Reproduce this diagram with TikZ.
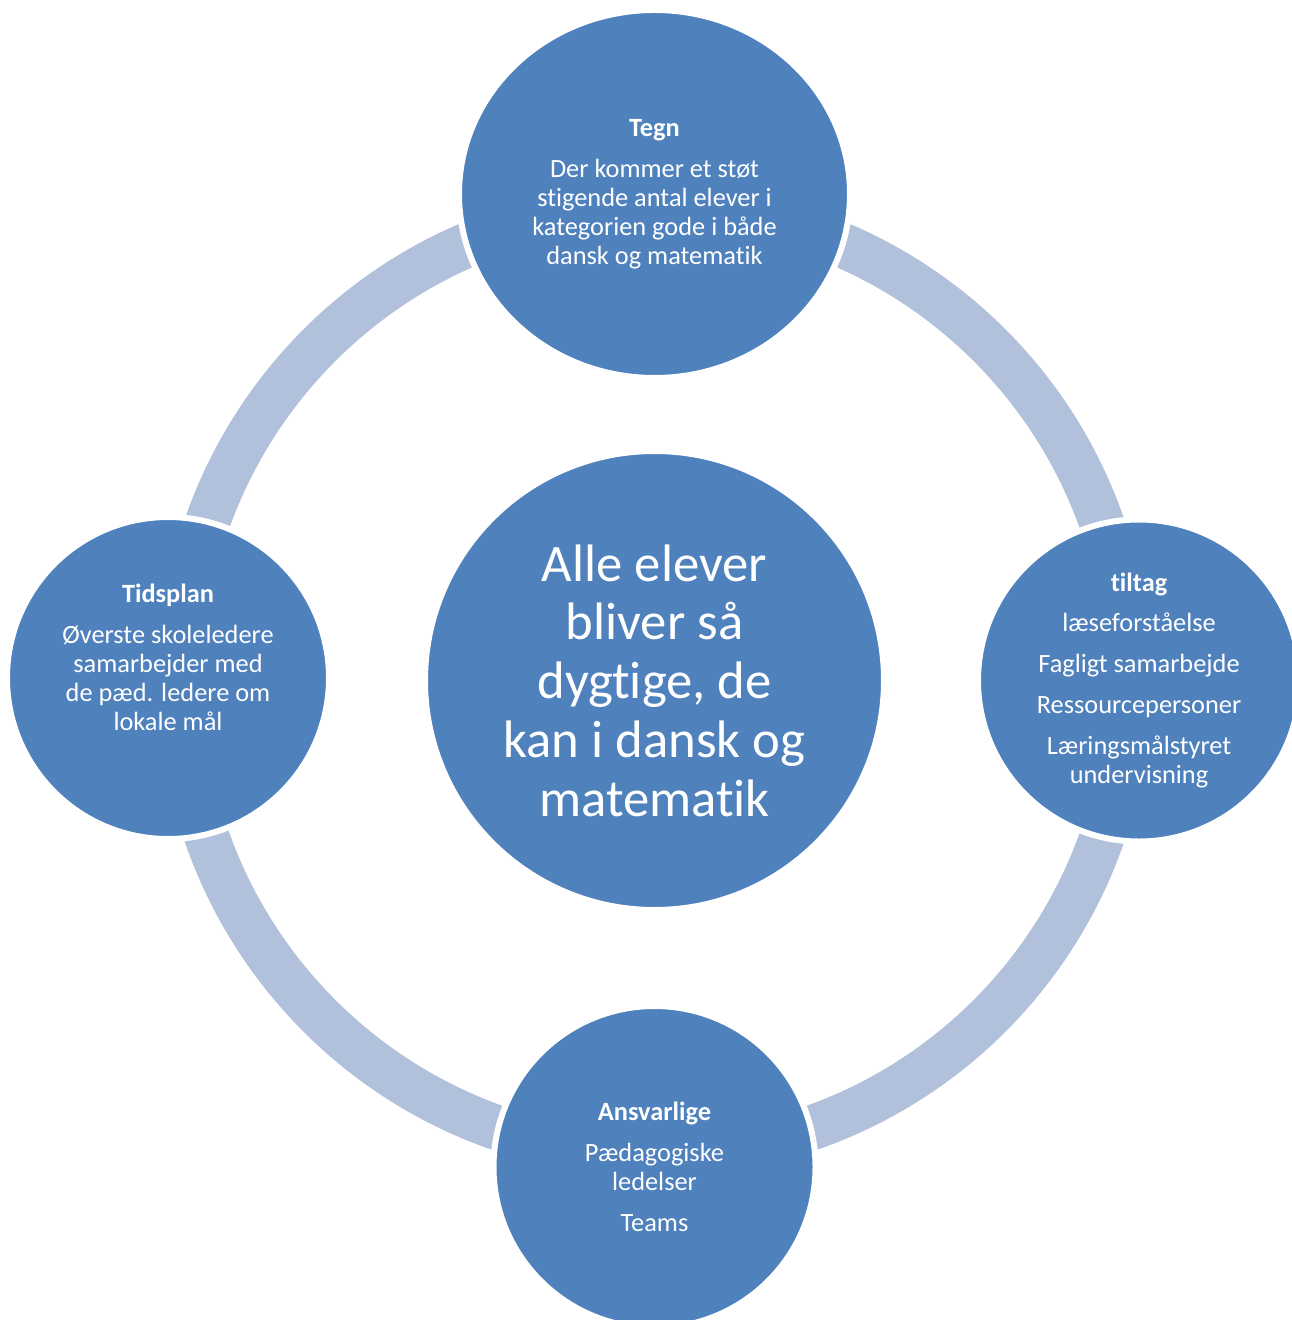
\documentclass[tikz,border=0pt]{standalone}
\usepackage{fontspec}
\setmainfont{Carlito}[Ligatures=NoCommon]
\usepackage{tikz}
\usetikzlibrary{positioning}
\usetikzlibrary{shapes.geometric}
\definecolor{discblue}{HTML}{4F81BD}
\definecolor{ringblue}{HTML}{B2C1DB}
\tikzstyle{every node}+=[inner sep=0pt]
\tikzstyle{disc} = [ellipse, fill=discblue, draw=white, line width=1.2mm, text=white, align=center, font=\fontsize{15pt}{16.5pt}\selectfont, minimum width=64.4mm, minimum height=64.4mm, node distance=97.3mm]
\tikzstyle{hub} = [disc, minimum width=91.8mm, minimum height=91.8mm, font=\fontsize{30pt}{33.4pt}\selectfont]
\tikzstyle{ring} = [draw=ringblue, line width=9mm]

\begin{document}
\begin{tikzpicture}[x=0.2mm, y=-0.2mm]
            \useasboundingbox (0,0) rectangle (1291,1320);
            % Place nodes
            \node [hub] (core) at (654.5,680.5) {Alle elever\\bliver så\\dygtige, de\\kan i dansk og\\matematik};
            % Draw ring
            \draw [ring] (core.center) circle (94.8mm);
            \node [disc, above of=core, minimum width=78.2mm, minimum height=73.6mm] (tegn) {\textbf{Tegn}\\[2.4mm]Der kommer et støt\\stigende antal elever i\\kategorien gode i både\\dansk og matematik};
            \node [disc, right of=core, node distance=96.9mm] (tiltag) {\textbf{tiltag}\\[2.4mm]læseforståelse\\[2.4mm]Fagligt samarbejde\\[2.4mm]Ressourcepersoner\\[2.4mm]Læringsmålstyret\\undervisning};
            \node [disc, below of=core] (ansvar) {\textbf{Ansvarlige}\\[2.4mm]Pædagogiske\\ledelser\\[2.4mm]Teams};
            \node [disc, left of=core, yshift=0.5mm] (tidsplan) {\textbf{Tidsplan}\\[2.4mm]Øverste skoleledere\\samarbejder med\\de pæd. ledere om\\lokale mål\\[2.4mm]\mbox{}};
          \end{tikzpicture}
\end{document}
